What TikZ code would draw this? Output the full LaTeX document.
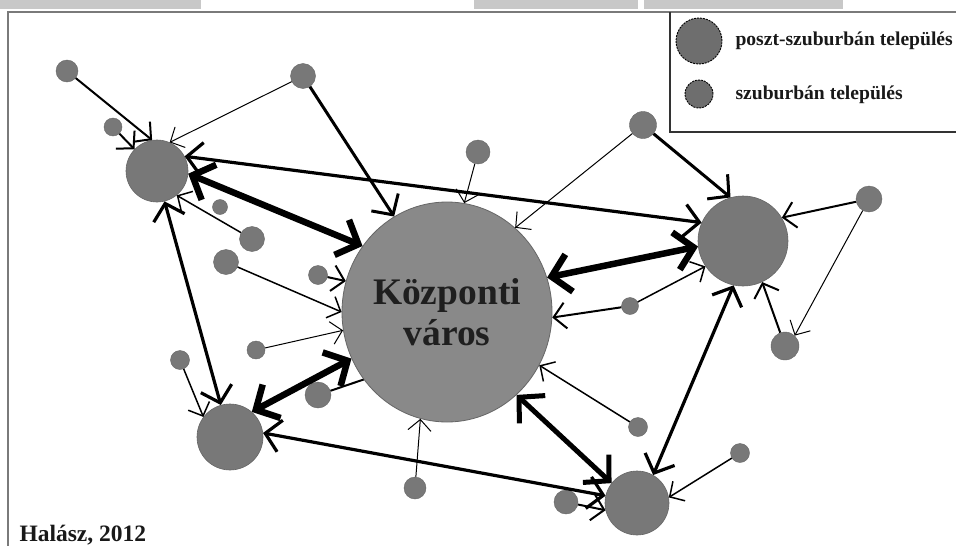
\documentclass[tikz,border=0pt]{standalone}
\usepackage{fontspec}
\setmainfont{Liberation Serif}
\usetikzlibrary{arrows.meta,shapes.geometric}
\definecolor{nodegray}{HTML}{787878}
\definecolor{nodeedge}{HTML}{666666}
\definecolor{citygray}{HTML}{898989}
\definecolor{bargray}{HTML}{C8C8C8}
\definecolor{framegray}{HTML}{7A7A7A}
\definecolor{leggray}{HTML}{6E6E6E}
\begin{document}
\begin{tikzpicture}[x=1pt,y=-1pt,
  sat/.style={circle,fill=nodegray,draw=nodeedge,line width=0.6pt,inner sep=0pt,minimum size=#1},
  subn/.style={circle,fill=nodegray,draw=nodeedge,line width=0.4pt,inner sep=0pt,minimum size=#1},
  legc/.style={circle,fill=leggray,draw=black,dash pattern=on 2pt off 1pt,line width=0.9pt,inner sep=0pt,minimum size=#1},
  city/.style={ellipse,fill=citygray,draw=nodeedge,line width=0.8pt,inner sep=0pt,minimum width=210pt,minimum height=220pt,align=center,text=black!88,font=\fontsize{37.5}{41}\selectfont\bfseries},
  lbl/.style={anchor=base west,text=black!90,font=\fontsize{19.6}{24}\selectfont\bfseries},
  tipA/.tip={Straight Barb[length=11pt,width=23pt,line join=miter]},
  tipB/.tip={Straight Barb[length=12pt,width=26pt,line join=miter]},
  tipC/.tip={Straight Barb[length=15pt,width=32pt,line join=miter]},
  tipD/.tip={Straight Barb[length=18pt,width=38pt,line join=miter]},
  a1/.style={line width=1pt,-tipA},
  a15/.style={line width=1.5pt,-tipA},
  a2/.style={line width=2pt,-tipB},
  a3/.style={line width=3pt,-tipC},
  b3/.style={line width=3.2pt,tipC-tipC},
  b5/.style={line width=5pt,tipD-tipD},
  b6/.style={line width=6.5pt,tipD-tipD}
]
\useasboundingbox (0,0) rectangle (956,546);
\fill[white] (0,0) rectangle (956,546);
% top grey bars and frame
\fill[bargray] (0,0) rectangle (201,9);
\fill[bargray] (474,0) rectangle (638,9);
\fill[bargray] (644,0) rectangle (843,9);
\draw[framegray,line width=2.5pt] (8,546) -- (8,12) -- (960,12);
% legend box
\draw[black!80,line width=1.6pt] (670,12) -- (670,132) -- (960,132);
\node[legc=46pt] (lgbig) at (699,41) {};
\node[legc=28pt] (lgsmall) at (699,94) {};
\node[lbl] (lgt1) at (732,45) {poszt-szuburbán település};
\node[lbl] (lgt2) at (732,99) {szuburbán település};
\node[anchor=base west,text=black!90,font=\fontsize{23.5}{28}\selectfont\bfseries] (src) at (16,541) {Halász, 2012};
% main nodes
\node[city] (Z) at (447,312) {Központi\\város};
\node[sat=62pt] (A) at (157,171) {};
\node[sat=90pt] (B) at (743,241) {};
\node[sat=66pt] (C) at (230,437) {};
\node[sat=64pt] (D) at (637,503) {};
% suburban nodes
\node[subn=22pt] (n1) at (67,71) {};
\node[subn=25pt] (n2) at (303,76) {};
\node[subn=18pt] (n3) at (113,127) {};
\node[subn=24pt] (n4) at (478,152) {};
\node[subn=27pt] (n5) at (643,125) {};
\node[subn=26pt] (n6) at (869,199) {};
\node[subn=15pt] (n7) at (220,207) {};
\node[subn=25pt] (n8) at (252,239) {};
\node[subn=25pt] (n9) at (226,262) {};
\node[subn=19pt] (n10) at (318,275) {};
\node[subn=18pt] (n11) at (256,350) {};
\node[subn=19pt] (n12) at (180,360) {};
\node[subn=26pt] (n13) at (318,395) {};
\node[subn=17pt] (n14) at (630,306) {};
\node[subn=28pt] (n15) at (785,346) {};
\node[subn=19pt] (n16) at (638,427) {};
\node[subn=19pt] (n17) at (740,453) {};
\node[subn=22pt] (n18) at (415,488) {};
\node[subn=24pt] (n19) at (566,502) {};
% connectors
\draw[a2] (n1) -- (A.99);
\draw[a2] (n3) -- (A.136);
\draw[a1] (n2) -- (A.66);
\draw[a3] (n2) -- (Z.119);
\draw[b3] (A.28) -- (B.156);
\draw[b6] (A.-5) -- (Z.142);
\draw[a1] (n4) -- (Z.81);
\draw[a1] (n5) -- (Z.51);
\draw[a3] (n5) -- (B.106);
\draw[a2] (n6) -- (B.31);
\draw[a1] (n6) -- (n15.47);
\draw[a2] (n15) -- (B.-65);
\draw[b6] (Z.19) -- (B.-173);
\draw[a15] (n14) -- (B.-146);
\draw[a2] (n14) -- (Z.-3);
\draw[a15] (n16) -- (Z.-30);
\draw[b5] (Z.-50) -- (D.142);
\draw[b3] (B.-102) -- (D.60);
\draw[a15] (n17) -- (D.10);
\draw[a2] (n19) -- (D.-167);
\draw[b3] (C.7) -- (D.167);
\draw[a1] (n18) -- (Z.-104);
\draw[line width=2pt] (n13) -- (Z.-141);
\draw[b6] (Z.-154) -- (C.49);
\draw[a15] (n12) -- (C.143);
\draw[a1] (n11) -- (Z.-170);
\draw[a15] (n9) -- (Z.180);
\draw[a2] (n10) -- (Z.163);
\draw[a15] (n8) -- (A.-51);
\draw[b3] (A.-76) -- (C.106);
\end{tikzpicture}
\end{document}
